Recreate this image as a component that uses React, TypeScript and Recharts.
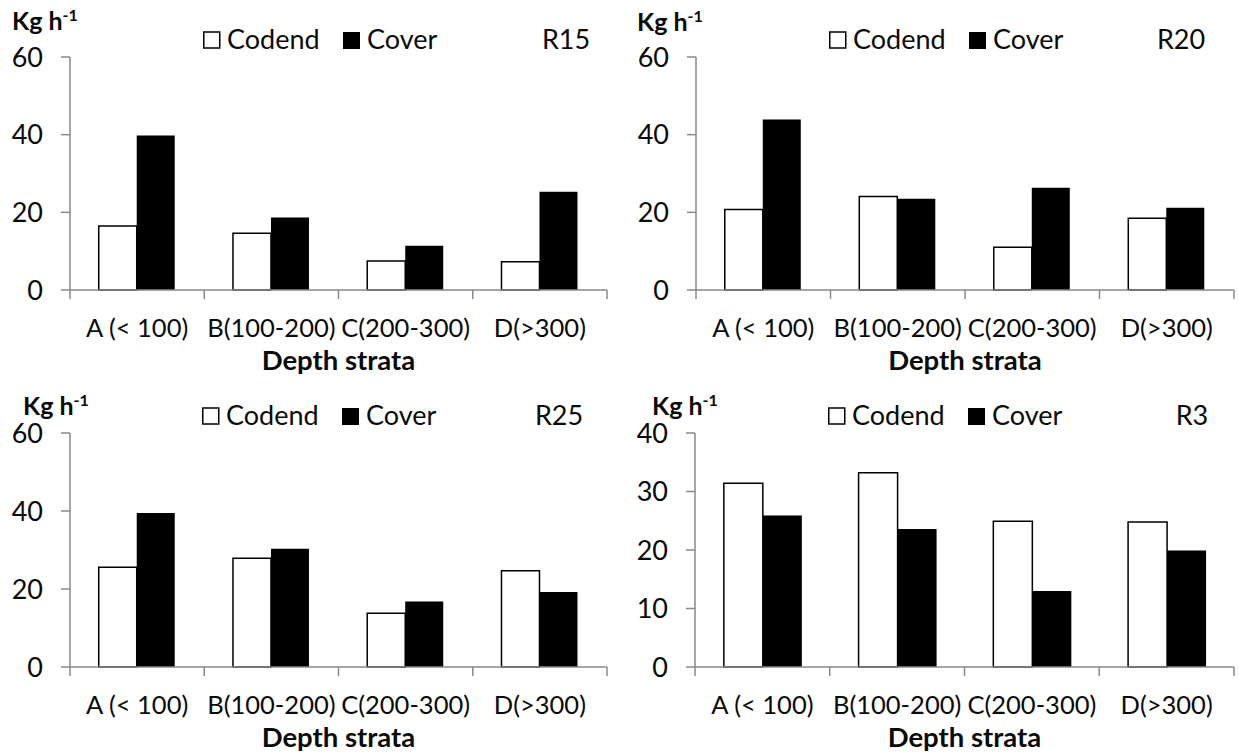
import React from 'react';
import { BarChart, Bar, XAxis, YAxis, Legend } from 'recharts';

// ---------- data ----------
const categories = ['A (< 100)', 'B(100-200)', 'C(200-300)', 'D(>300)'];
const seriesNames = ['Codend', 'Cover'];

const r15Codend = [16.5, 14.6, 7.5, 7.3];
const r15Cover = [39.8, 18.7, 11.4, 25.3];
const r20Codend = [20.7, 24.1, 11.0, 18.5];
const r20Cover = [43.9, 23.5, 26.3, 21.2];
const r25Codend = [25.6, 27.9, 13.8, 24.7];
const r25Cover = [39.5, 30.3, 16.8, 19.2];
const r3Codend = [31.4, 33.2, 24.9, 24.8];
const r3Cover = [25.9, 23.6, 13.0, 19.9];

const ticks60 = [0, 20, 40, 60];
const ticks40 = [0, 10, 20, 30, 40];

const panelTitles = ['R15', 'R20', 'R25', 'R3'];
const yAxisTitle = 'Kg h';
const yAxisSup = '-1';
const xAxisTitle = 'Depth strata';

// ---------- styles ----------
const AXIS = '#898989';
const INK = '#0a0a0a';
const FONT = "Lato, 'Open Sans', 'DejaVu Sans', sans-serif";

const buildData = (codend: number[], cover: number[]) =>
  categories.map((c, i) => ({ category: c, codend: codend[i], cover: cover[i] }));

type Panel = {
  title: string;
  codend: number[];
  cover: number[];
  yTicks: number[];
  left: number;
  top: number;
  width: number;
  height: number;
  margin: { top: number; right: number; bottom: number; left: number };
  kgDx: number;
  kgDy: number;
  legendLeft: number;
  legendTop: number;
  titleCx: number;
};

const panels: Panel[] = [
  {
    title: panelTitles[0], codend: r15Codend, cover: r15Cover, yTicks: ticks60,
    left: 0, top: 0, width: 620, height: 376,
    margin: { top: 57, right: 13, bottom: 6, left: 10 },
    kgDx: -58, kgDy: -27, legendLeft: 203, legendTop: 10, titleCx: 363,
  },
  {
    title: panelTitles[1], codend: r20Codend, cover: r20Cover, yTicks: ticks60,
    left: 620, top: 0, width: 619, height: 376,
    margin: { top: 57, right: 5, bottom: 6, left: 16 },
    kgDx: -59, kgDy: -26, legendLeft: 209, legendTop: 10, titleCx: 352,
  },
  {
    title: panelTitles[2], codend: r25Codend, cover: r25Cover, yTicks: ticks60,
    left: 0, top: 377, width: 620, height: 376,
    margin: { top: 56, right: 13, bottom: 6, left: 10 },
    kgDx: -47, kgDy: -18, legendLeft: 202, legendTop: 9, titleCx: 357,
  },
  {
    title: panelTitles[3], codend: r3Codend, cover: r3Cover, yTicks: ticks40,
    left: 620, top: 377, width: 619, height: 376,
    margin: { top: 56, right: 5, bottom: 6, left: 15 },
    kgDx: -43, kgDy: -18, legendLeft: 208, legendTop: 9, titleCx: 364,
  },
];

const XTick = (props: any) => {
  const { x, y, payload, width, visibleTicksCount } = props;
  const half = payload && payload.offset ? payload.offset : width / visibleTicksCount / 2;
  const last = payload.index === visibleTicksCount - 1;
  return (
    <g>
      <line x1={x - half} x2={x - half} y1={y} y2={y + 9} stroke={AXIS} strokeWidth={1.5} />
      {last && <line x1={x + half} x2={x + half} y1={y} y2={y + 9} stroke={AXIS} strokeWidth={1.5} />}
      <text x={x} y={y + 47} textAnchor="middle" fontFamily={FONT} fontSize={25.5} fill={INK}>
        {payload.value}
      </text>
    </g>
  );
};

const makeXLabel = () => (props: any) => {
  const vb = props.viewBox || {};
  return (
    <text
      x={vb.x + vb.width / 2}
      y={vb.y + 80}
      textAnchor="middle"
      fontFamily={FONT}
      fontSize={27.5}
      fontWeight={700}
      fill={INK}
    >
      {xAxisTitle}
    </text>
  );
};

const makeYLabel = (dx: number, dy: number) => (props: any) => {
  const vb = props.viewBox || {};
  const px = vb.x + vb.width;
  const py = vb.y;
  return (
    <text x={px + dx} y={py + dy} fontFamily={FONT} fontSize={25} fontWeight={700} fill={INK}>
      <tspan>{yAxisTitle}</tspan>
      <tspan dy={-9} fontSize={16}>{yAxisSup}</tspan>
    </text>
  );
};

const makeLegend = (title: string, titleCx: number) => () => (
  <svg width={420} height={44} style={{ display: 'block', overflow: 'visible' }}>
    <rect x={0.75} y={22} width={16} height={16} fill="#ffffff" stroke="#000" strokeWidth={1.5} />
    <text x={24} y={38.5} fontFamily={FONT} fontSize={27} fill={INK}>{seriesNames[0]}</text>
    <rect x={140} y={22} width={17} height={17} fill="#000" />
    <text x={164} y={38.5} fontFamily={FONT} fontSize={27} fill={INK}>{seriesNames[1]}</text>
    <text x={titleCx} y={38.5} textAnchor="middle" fontFamily={FONT} fontSize={27} fill={INK}>{title}</text>
  </svg>
);

const PanelChart = ({ p }: { p: Panel }) => {
  const data = buildData(p.codend, p.cover);
  const yMax = p.yTicks[p.yTicks.length - 1];
  return (
    <div style={{ position: 'absolute', left: p.left, top: p.top, width: p.width, height: p.height }}>
      <BarChart
        width={p.width}
        height={p.height}
        data={data}
        margin={p.margin}
        barCategoryGap="21.4%"
        barGap={0}
      >
        <XAxis
          dataKey="category"
          height={80}
          interval={0}
          tickLine={false}
          tickSize={0}
          tickMargin={0}
          axisLine={{ stroke: AXIS, strokeWidth: 1.5 }}
          tick={<XTick />}
          label={{ content: makeXLabel() }}
        />
        <YAxis
          width={60}
          domain={[0, yMax]}
          ticks={p.yTicks}
          interval={0}
          tickSize={9}
          tickMargin={18}
          axisLine={{ stroke: AXIS, strokeWidth: 1.5 }}
          tickLine={{ stroke: AXIS, strokeWidth: 1.5 }}
          tick={{ fontFamily: FONT, fontSize: 27, fill: INK }}
          label={{ content: makeYLabel(p.kgDx, p.kgDy) }}
        />
        <Legend
          layout="horizontal"
          verticalAlign="middle"
          align="center"
          content={makeLegend(p.title, p.titleCx)}
          wrapperStyle={{ position: 'absolute', left: p.legendLeft, top: p.legendTop, width: 420, height: 44 }}
        />
        <Bar
          dataKey="codend"
          name={seriesNames[0]}
          fill="#ffffff"
          stroke="#000000"
          strokeWidth={1.5}
          isAnimationActive={false}
        />
        <Bar dataKey="cover" name={seriesNames[1]} fill="#000000" isAnimationActive={false} />
      </BarChart>
    </div>
  );
};

export default function App() {
  return (
    <div
      style={{
        position: 'absolute',
        left: 0,
        top: 0,
        width: 1239,
        height: 753,
        background: '#ffffff',
        overflow: 'hidden',
      }}
    >
      {panels.map((p) => (
        <PanelChart key={p.title} p={p} />
      ))}
    </div>
  );
}
